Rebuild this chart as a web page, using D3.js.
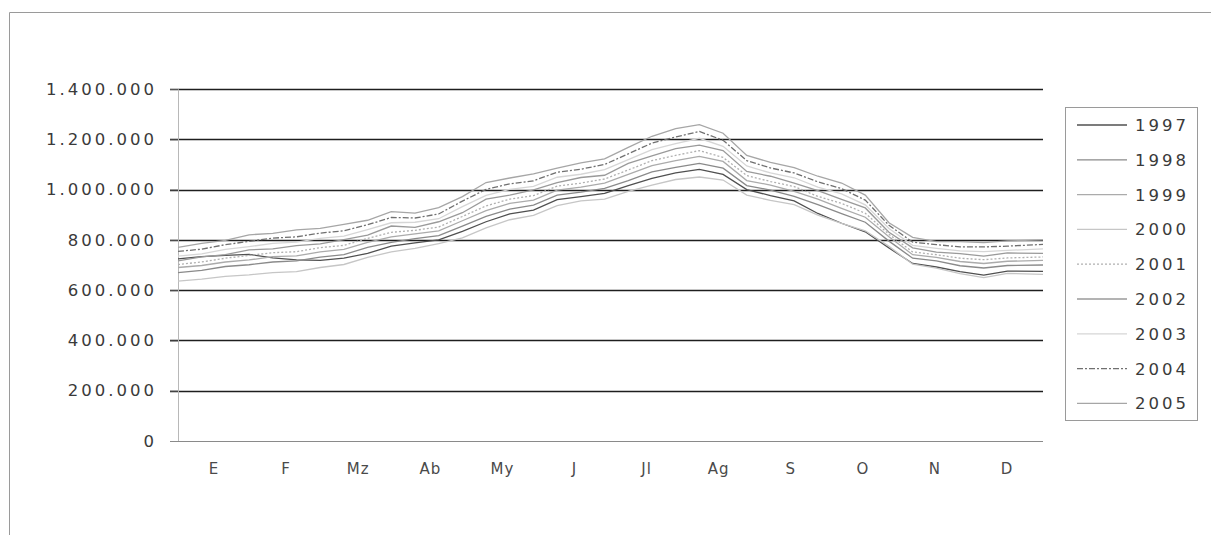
<!DOCTYPE html>
<html>
<head>
<meta charset="utf-8">
<script src="https://cdn.jsdelivr.net/npm/d3@7"></script>
<style>
  body { margin: 0; background: #fff; }
  text { font-family: "DejaVu Sans", sans-serif; }
</style>
</head>
<body>
<div id="chart"></div>
<script>
// months shown under the axis
const months = ["E", "F", "Mz", "Ab", "My", "J", "Jl", "Ag", "S", "O", "N", "D"];
// day of year for each sample
const days = [0, 10, 20, 30, 40, 50, 60, 70, 80, 90, 100, 110, 120, 130, 140, 150, 160, 170, 180, 190, 200, 210, 220, 230, 240, 250, 260, 270, 280, 290, 300, 310, 320, 330, 340, 350, 365];
const years = ["1997", "1998", "1999", "2000", "2001", "2002", "2003", "2004", "2005"];
const yTicks = [0, 200000, 400000, 600000, 800000, 1000000, 1200000, 1400000];

// values in thousands
const v1997 = [724, 733, 738, 742, 728, 720, 718, 727, 746, 775, 788, 800, 834, 872, 903, 918, 960, 972, 985, 1016, 1045, 1066, 1080, 1060, 1000, 976, 955, 905, 866, 832, 768, 706, 692, 674, 660, 676, 675];
const v1998 = [670, 679, 694, 701, 712, 716, 731, 741, 770, 790, 805, 817, 855, 893, 922, 938, 978, 990, 1005, 1036, 1070, 1088, 1104, 1085, 1016, 998, 973, 940, 904, 870, 795, 727, 716, 697, 688, 698, 700];
const v1999 = [690, 698, 712, 720, 733, 736, 752, 762, 790, 812, 824, 836, 876, 916, 945, 958, 998, 1010, 1026, 1060, 1095, 1115, 1132, 1112, 1036, 1018, 993, 962, 925, 890, 812, 741, 730, 714, 706, 715, 718];
const v2000 = [636, 644, 655, 661, 670, 674, 690, 702, 730, 752, 766, 785, 808, 848, 880, 897, 936, 955, 962, 993, 1018, 1040, 1050, 1038, 978, 957, 940, 898, 866, 836, 774, 703, 688, 666, 650, 667, 663];
const v2001 = [702, 712, 727, 738, 749, 753, 769, 778, 806, 830, 838, 851, 893, 935, 962, 976, 1014, 1026, 1042, 1078, 1115, 1136, 1155, 1128, 1056, 1032, 1012, 973, 945, 906, 822, 752, 741, 727, 721, 728, 732];
const v2002 = [716, 732, 741, 760, 764, 777, 784, 801, 819, 855, 850, 872, 908, 962, 978, 999, 1028, 1048, 1057, 1104, 1134, 1163, 1177, 1155, 1072, 1053, 1026, 996, 961, 927, 830, 768, 751, 745, 735, 748, 746];
const v2003 = [735, 744, 762, 773, 786, 791, 806, 815, 841, 868, 870, 884, 932, 977, 1001, 1013, 1049, 1061, 1079, 1119, 1159, 1183, 1204, 1172, 1094, 1066, 1047, 1010, 983, 939, 845, 778, 766, 756, 753, 758, 764];
const v2004 = [754, 763, 781, 794, 807, 812, 827, 836, 860, 889, 887, 903, 954, 1001, 1023, 1035, 1069, 1081, 1100, 1142, 1185, 1209, 1231, 1196, 1115, 1086, 1066, 1031, 1004, 958, 858, 791, 781, 772, 772, 775, 782];
const v2005 = [770, 786, 798, 820, 826, 840, 846, 862, 878, 912, 906, 928, 972, 1028, 1046, 1062, 1085, 1106, 1122, 1168, 1212, 1242, 1258, 1224, 1136, 1108, 1087, 1053, 1026, 978, 868, 810, 793, 793, 789, 796, 800];

const seriesValues = [v1997, v1998, v1999, v2000, v2001, v2002, v2003, v2004, v2005];
const lineColors = ["#505050", "#8a8a8a", "#ababab", "#c6c6c6", "#b0b0b0", "#9a9a9a", "#d6d6d6", "#707070", "#a6a6a6"];
const lineDash = [null, null, null, null, "2,2", null, null, "6,2,2,2", null];

const W = 1211, H = 535;
const margin = {top: 89, right: 168, bottom: 94, left: 178};
const width = W - margin.left - margin.right,
      height = H - margin.top - margin.bottom;

const svg = d3.select("#chart")
  .append("svg")
    .attr("width", W)
    .attr("height", H);

// outer chart frame
svg.append("path")
  .attr("d", "M9.5,545 V12.5 H1215")
  .attr("fill", "none")
  .attr("stroke", "#9a9a9a")
  .attr("stroke-width", 1);

const g = svg.append("g")
  .attr("transform", `translate(${margin.left},${margin.top})`);

const x = d3.scaleLinear().domain([0, 365]).range([0, width]);
const y = d3.scaleLinear().domain([0, 1400000]).range([height, 0]);
const xm = d3.scaleBand().domain(months).range([0, width]);

const locale = d3.formatLocale({decimal: ",", thousands: ".", grouping: [3], currency: ["", ""]});
const fmt = locale.format(",");

// horizontal grid lines
g.selectAll("line.grid")
  .data(yTicks.filter(d => d > 0))
  .join("line")
    .attr("class", "grid")
    .attr("x1", -8)
    .attr("x2", width)
    .attr("y1", d => Math.round(y(d)) + 0.5)
    .attr("y2", d => Math.round(y(d)) + 0.5)
    .attr("stroke", "#1e1e1e")
    .attr("stroke-width", 1.6);

// y axis
const yAxis = g.append("g")
  .call(d3.axisLeft(y).tickValues(yTicks).tickFormat(fmt).tickSize(8).tickPadding(13));
yAxis.select(".domain").attr("stroke", "#b8b8b8");
yAxis.selectAll(".tick line").attr("stroke", "#555");
yAxis.selectAll("text")
  .attr("fill", "#3a3a3a")
  .style("font-size", "16.5px")
  .style("letter-spacing", "3px");

// x axis line
g.append("line")
  .attr("x1", -8).attr("x2", width)
  .attr("y1", height + 0.5).attr("y2", height + 0.5)
  .attr("stroke", "#8a8a8a")
  .attr("stroke-width", 1.2);

// month labels
g.selectAll("text.month")
  .data(months)
  .join("text")
    .attr("class", "month")
    .attr("x", d => xm(d) + xm.bandwidth() / 2)
    .attr("y", height + 33)
    .attr("text-anchor", "middle")
    .attr("fill", "#4a4a4a")
    .style("font-size", "15px")
    .style("letter-spacing", "1px")
    .text(d => d);

// lines
const line = d3.line()
  .x(d => x(d[0]))
  .y(d => y(d[1]));

const series = years.map((yr, i) => ({
  year: yr,
  points: days.map((dd, j) => [dd, seriesValues[i][j] * 1000]),
  color: lineColors[i],
  dash: lineDash[i]
}));

g.selectAll("path.series")
  .data(series)
  .join("path")
    .attr("class", "series")
    .attr("d", d => line(d.points))
    .attr("fill", "none")
    .attr("stroke", d => d.color)
    .attr("stroke-width", 1.3)
    .attr("stroke-dasharray", d => d.dash);

// legend
const leg = svg.append("g").attr("transform", "translate(1065,107)");
leg.append("rect")
  .attr("x", 0.5).attr("y", 0.5)
  .attr("width", 132).attr("height", 313)
  .attr("fill", "#fff")
  .attr("stroke", "#9a9a9a");

const items = leg.selectAll("g.item")
  .data(series)
  .join("g")
    .attr("class", "item")
    .attr("transform", (d, i) => `translate(0,${18 + i * 34.8})`);

items.append("line")
  .attr("x1", 12).attr("x2", 62)
  .attr("y1", 0).attr("y2", 0)
  .attr("stroke", d => d.color)
  .attr("stroke-width", 1.3)
  .attr("stroke-dasharray", d => d.dash);

items.append("text")
  .attr("x", 70)
  .attr("y", 6)
  .attr("fill", "#3a3a3a")
  .style("font-size", "16.5px")
  .style("letter-spacing", "3px")
  .text(d => d.year);
</script>
</body>
</html>
